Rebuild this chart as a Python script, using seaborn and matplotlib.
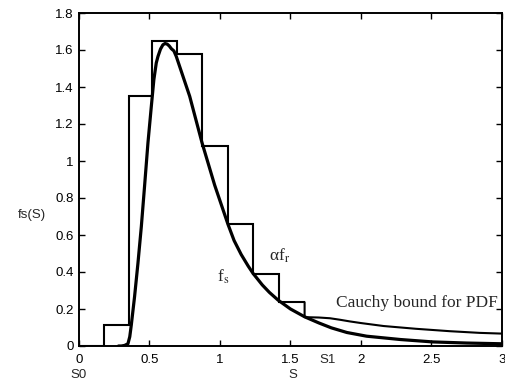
import matplotlib
matplotlib.use("Agg")
import matplotlib.pyplot as plt
import seaborn as sns
import pandas as pd

# ---- data ----
bin_edges = [0.0, 0.18, 0.355, 0.52, 0.695, 0.87, 1.057, 1.234, 1.415, 1.60]
bin_heights = [0.0, 0.114, 1.354, 1.648, 1.58, 1.08, 0.657, 0.39, 0.237]

fs_S = [0.28, 0.30, 0.323, 0.347, 0.36, 0.371, 0.394, 0.418, 0.442, 0.465,
        0.489, 0.513, 0.531, 0.548, 0.56, 0.578, 0.595, 0.61, 0.625, 0.64,
        0.655, 0.673, 0.69, 0.785, 0.872, 0.962, 1.057, 1.10, 1.15, 1.20,
        1.234, 1.30, 1.35, 1.412, 1.50, 1.60, 1.70, 1.79, 1.90, 2.04, 2.28,
        2.51, 2.75, 3.0]
fs_val = [0.0, 0.0, 0.003, 0.012, 0.05, 0.114, 0.266, 0.447, 0.645, 0.864,
          1.098, 1.296, 1.44, 1.53, 1.565, 1.605, 1.628, 1.635, 1.632, 1.622,
          1.607, 1.595, 1.565, 1.35, 1.10, 0.87, 0.657, 0.57, 0.495, 0.432,
          0.393, 0.330, 0.29, 0.248, 0.200, 0.158, 0.125, 0.098, 0.073, 0.053,
          0.035, 0.022, 0.016, 0.012]

cauchy_S = [1.60, 1.60, 1.70, 1.78, 1.85, 1.92, 2.0, 2.16, 2.39, 2.63, 2.84, 3.0]
cauchy_val = [0.237, 0.156, 0.154, 0.150, 0.142, 0.133, 0.124, 0.108, 0.093,
              0.080, 0.071, 0.067]

xticks = [0, 0.5, 1, 1.5, 2, 2.5, 3]
xtick_labels = ["0", "0.5", "1", "1.5", "2", "2.5", "3"]
yticks = [0, 0.2, 0.4, 0.6, 0.8, 1.0, 1.2, 1.4, 1.6, 1.8]
ytick_labels = ["0", "0.2", "0.4", "0.6", "0.8", "1", "1.2", "1.4", "1.6", "1.8"]

# ---- styling ----
sns.set_style("ticks")
plt.rcParams["font.family"] = ["Liberation Sans", "DejaVu Sans"]
plt.rcParams["mathtext.fontset"] = "stix"

fig = plt.figure(figsize=(5.06, 3.85), dpi=100)
ax = fig.add_axes([79 / 506, 1 - 346 / 385, (502 - 79) / 506, (346 - 13) / 385])

# histogram outline (step)
ax.stairs(bin_heights, bin_edges, baseline=None, color="black", linewidth=1.5)

# f_s curve
df_fs = pd.DataFrame({"S": fs_S, "f": fs_val})
sns.lineplot(data=df_fs, x="S", y="f", ax=ax, color="black", linewidth=2.3,
             estimator=None, sort=False)

# Cauchy bound
df_c = pd.DataFrame({"S": cauchy_S, "f": cauchy_val})
sns.lineplot(data=df_c, x="S", y="f", ax=ax, color="black", linewidth=1.5,
             estimator=None, sort=False)

ax.set_xlim(0, 3)
ax.set_ylim(0, 1.8)
ax.set_xticks(xticks)
ax.set_xticklabels(xtick_labels)
ax.set_yticks(yticks)
ax.set_yticklabels(ytick_labels)
ax.tick_params(direction="in", length=4, width=1, top=True, right=True,
               labelsize=9.5, colors="black")
ax.tick_params(axis="x", pad=6)
ax.tick_params(axis="y", pad=4)
for sp in ax.spines.values():
    sp.set_visible(True)
    sp.set_linewidth(1.4)
    sp.set_color("black")

ax.set_xlabel("")
ax.set_ylabel("fs(S)", rotation=0, fontsize=9.5, ha="center", va="center")
ax.yaxis.set_label_coords(-0.111, 0.393)

# extra axis annotations
tr = ax.get_xaxis_transform()
ax.text(0.0, -0.087, "S0", transform=tr, ha="center", va="center", fontsize=9.5)
ax.text(1.52, -0.087, "S", transform=tr, ha="center", va="center", fontsize=9.5)
ax.text(1.765, -0.042, "S1", transform=tr, ha="center", va="center", fontsize=9.5)

# curve labels
ax.text(2.97, 0.235, "Cauchy bound for PDF", ha="right", va="center",
        fontsize=12.5, family="Liberation Serif")
ax.text(1.42, 0.49, "\u03b1f$_\\mathrm{r}$", ha="center", va="center",
        fontsize=12.5, family="Liberation Serif")
ax.text(1.02, 0.375, "f$_\\mathrm{s}$", ha="center", va="center",
        fontsize=12.5, family="Liberation Serif")

fig.savefig("out.png", dpi=100)
